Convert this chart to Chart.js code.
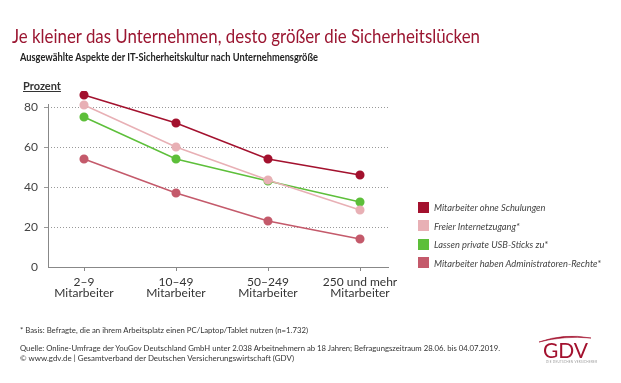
<!DOCTYPE html>
<html>
<head>
<meta charset="utf-8">
<script src="https://cdn.jsdelivr.net/npm/chart.js@4/dist/chart.umd.min.js"></script>
<style>
  html, body { margin: 0; padding: 0; background: #fff; }
  #wrap { position: relative; width: 621px; height: 383px; overflow: hidden; font-family: "Lato", "Open Sans", sans-serif; }
  #c { position: absolute; left: 0; top: 0; }
  .abs { position: absolute; white-space: nowrap; transform-origin: 0 50%; }
  #title { left: 12px; top: 24px; font-size: 19px; color: #9b1631; }
  #subtitle { left: 20px; top: 50px; font-size: 11.5px; font-weight: bold; color: #222; }
  #unit { left: 23px; top: 79px; font-size: 11px; font-weight: bold; color: #333; text-decoration: underline; }
  #legend { left: 418px; top: 198px; }
  .li { display: flex; align-items: center; height: 18.5px; }
  .sw { width: 11px; height: 11px; margin-right: 5px; flex: none; }
  .lt { font-size: 10px; font-style: italic; color: #444; display: inline-block; transform-origin: 0 50%; }
  .fn { left: 20px; font-size: 8px; color: #333; }
  #logo { left: 538px; top: 331px; width: 54px; height: 14px; }
  #gdv { left: 543px; top: 337px; font-size: 21px; color: #a3112e; }
  #gdvsub { left: 546px; top: 360px; font-size: 3px; color: #999; letter-spacing: 0.3px; }
</style>
</head>
<body>
<div id="wrap">
  <canvas id="c" width="621" height="383"></canvas>
  <div class="abs" id="title" data-w="468">Je kleiner das Unternehmen, desto größer die Sicherheitslücken</div>
  <div class="abs" id="subtitle" data-w="298">Ausgewählte Aspekte der IT-Sicherheitskultur nach Unternehmensgröße</div>
  <div class="abs" id="unit">Prozent</div>
  <div class="abs" id="legend"></div>
  <div class="abs fn" style="top:325px" data-w="288">* Basis: Befragte, die an ihrem Arbeitsplatz einen PC/Laptop/Tablet nutzen (n=1.732)</div>
  <div class="abs fn" style="top:343px" data-w="480">Quelle: Online-Umfrage der YouGov Deutschland GmbH unter 2.038 Arbeitnehmern ab 18 Jahren; Befragungszeitraum 28.06. bis 04.07.2019.</div>
  <div class="abs fn" style="top:353px" data-w="274">© www.gdv.de | Gesamtverband der Deutschen Versicherungswirtschaft (GDV)</div>
  <svg class="abs" id="logo" viewBox="0 0 54 14"><path d="M1 11 Q26 2 53 7 Q26 4.5 1 11 Z" fill="#a3112e" stroke="#a3112e" stroke-width="0.6"/></svg>
  <div class="abs" id="gdv">GDV</div>
  <div class="abs" id="gdvsub">DIE DEUTSCHEN VERSICHERER</div>
</div>
<script>
const categories = ["2–9", "10–49", "50–249", "250 und mehr"];
const categorySuffix = "Mitarbeiter";
const seriesNames = [
  "Mitarbeiter ohne Schulungen",
  "Freier Internetzugang*",
  "Lassen private USB-Sticks zu*",
  "Mitarbeiter haben Administratoren-Rechte*"
];
const ohneSchulungen = [86, 72, 54, 46];
const internetzugang = [81, 60, 43.5, 28.5];
const usbSticks = [75, 54, 43, 32.5];
const adminRechte = [54, 37, 23, 14];
const yTicks = [0, 20, 40, 60, 80];
const seriesColors = ["#a3112e", "#e8b0b5", "#5dbf3a", "#c45a6b"];

const seriesValues = [ohneSchulungen, internetzugang, usbSticks, adminRechte];
const datasets = seriesValues.map((vals, i) => ({
  label: seriesNames[i],
  data: vals.map((v, j) => ({ x: j, y: v })),
  borderColor: seriesColors[i],
  backgroundColor: seriesColors[i],
  pointBackgroundColor: seriesColors[i],
  pointBorderColor: seriesColors[i],
  pointRadius: 3.8,
  borderWidth: 1.5,
  order: i
}));

// legend (HTML, built from the series)
const lg = document.getElementById('legend');
seriesNames.forEach((n, i) => {
  const row = document.createElement('div'); row.className = 'li';
  const sw = document.createElement('div'); sw.className = 'sw'; sw.style.background = seriesColors[i];
  const t = document.createElement('span'); t.className = 'lt'; t.textContent = n;
  row.appendChild(sw); row.appendChild(t); lg.appendChild(row);
});

// fit widths to reference layout
function fit(el, w) {
  const cur = el.getBoundingClientRect().width;
  if (cur > 0) el.style.transform = 'scaleX(' + (w / cur) + ')';
}
document.querySelectorAll('[data-w]').forEach(el => fit(el, +el.dataset.w));
const lts = document.querySelectorAll('.lt');
const ltScale = 167 / lts[3].getBoundingClientRect().width;
lts.forEach(el => { el.style.transform = 'scaleX(' + ltScale + ')'; });

// y axis line only up to the top of the labelled range
const yAxisLine = {
  id: 'yAxisLine',
  afterDraw(chart) {
    const y = chart.scales.y, x = chart.scales.x, ctx = chart.ctx;
    ctx.save();
    ctx.strokeStyle = '#888'; ctx.lineWidth = 1;
    ctx.beginPath();
    ctx.moveTo(x.left + 0.5, y.getPixelForValue(0));
    ctx.lineTo(x.left + 0.5, y.getPixelForValue(81.5));
    ctx.stroke();
    ctx.restore();
  }
};

new Chart(document.getElementById('c'), {
  type: 'line',
  data: { datasets },
  plugins: [yAxisLine],
  options: {
    responsive: false,
    animation: false,
    devicePixelRatio: 1,
    layout: { padding: { top: 91, right: 233, left: 0, bottom: 0 } },
    plugins: { legend: { display: false }, tooltip: { enabled: false } },
    scales: {
      x: {
        type: 'linear',
        min: -36 / 92,
        max: 3 + 28 / 92,
        afterBuildTicks: s => { s.ticks = categories.map((c, i) => ({ value: i })); },
        afterFit: s => { s.height = 116; },
        ticks: {
          autoSkip: false,
          maxRotation: 0,
          padding: 5,
          color: '#333',
          font: { family: 'Lato', size: 12, lineHeight: 0.95 },
          callback: v => [categories[v], categorySuffix]
        },
        grid: { display: true, drawOnChartArea: false, drawTicks: true, tickLength: 4, color: '#888', lineWidth: 1 },
        border: { display: true, color: '#888', width: 1 }
      },
      y: {
        min: 0,
        max: 88,
        afterBuildTicks: s => { s.ticks = yTicks.map(v => ({ value: v })); },
        afterFit: s => { s.width = 48; },
        ticks: {
          padding: 6,
          color: '#444',
          font: { family: 'Lato', size: 12 }
        },
        grid: {
          drawTicks: true,
          tickLength: 4,
          color: ctx => (ctx.tick && ctx.tick.value === 0) ? 'rgba(0,0,0,0)' : '#999',
          lineWidth: 1
        },
        border: { display: false, dash: [1, 2] }
      }
    }
  }
});
</script>
</body>
</html>
